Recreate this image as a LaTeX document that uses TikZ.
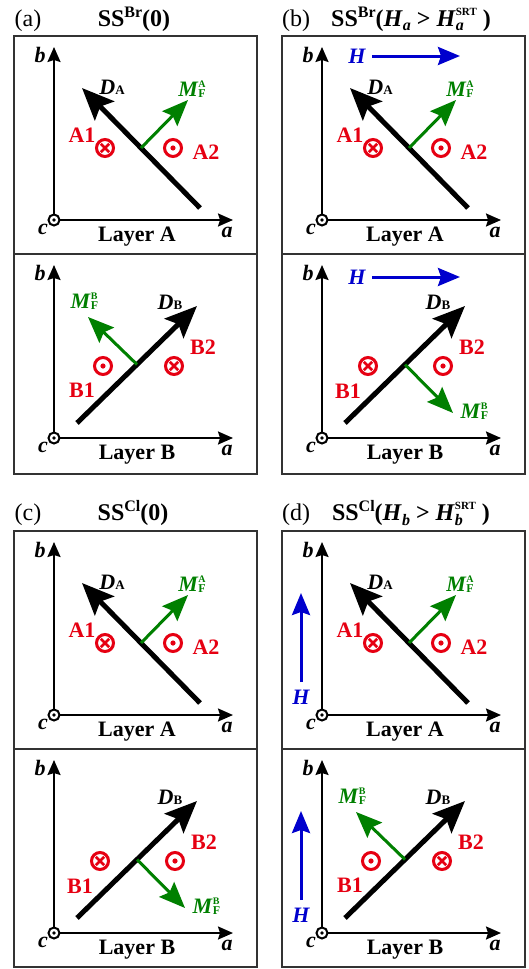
\documentclass[tikz,border=0pt]{standalone}
\usepackage{fontspec}
\setmainfont{Liberation Serif}
\usetikzlibrary{arrows.meta}
\definecolor{rd}{RGB}{230,0,18}
\definecolor{gn}{RGB}{0,128,0}
\definecolor{bl}{RGB}{0,0,205}
\tikzset{
 panelbox/.style={draw=black!80, line width=1.5pt},
 axis/.style={line width=2pt, -{Stealth[length=15pt,width=13pt,inset=2pt]}},
 darrow/.style={line width=5pt, -{Stealth[length=32pt,width=27pt,inset=6pt]}},
 marrow/.style={gn, line width=3pt, -{Stealth[length=26pt,width=21pt,inset=4pt]}},
 harrow/.style={bl, line width=3pt, -{Stealth[length=22pt,width=18pt,inset=3pt]}},
 lbl/.style={font=\fontsize{22}{22}\selectfont\bfseries, inner sep=0pt},
 axlbl/.style={lbl, font=\fontsize{22}{22}\selectfont\bfseries\itshape},
 redlbl/.style={lbl, text=rd},
 grnlbl/.style={lbl, text=gn},
 hlbl/.style={axlbl, text=bl},
 orig/.style={circle, draw, fill=white, line width=2pt, minimum size=11pt, inner sep=0pt, outer sep=0pt},
 redcirc/.style={circle, draw=rd, line width=3pt, minimum size=17pt, inner sep=0pt, outer sep=0pt},
 crossline/.style={rd, line width=2.5pt, shorten <=2.6pt, shorten >=2.6pt},
 ttl/.style={anchor=base, inner sep=0pt, font=\fontsize{24}{24}\selectfont},
}
\newcommand\mfl[1]{\textit{M}\makebox[0pt][l]{\raisebox{-1pt}{\fontsize{12}{12}\selectfont F}}\raisebox{9.5pt}{\fontsize{10}{10}\selectfont #1}}
\newcommand\dl[1]{\textit{D}{\fontsize{13}{13}\selectfont #1}}
\newcommand\otimesym[2]{%
  \node[redcirc] (#1) at (#2) {};
  \draw[crossline] (#1.north east) -- (#1.south west);
  \draw[crossline] (#1.north west) -- (#1.south east);}
\newcommand\odotsym[2]{%
  \node[redcirc] (#1) at (#2) {};
  \fill[rd] (#1) circle (2.6pt);}
\newcommand\axes[2]{% prefix, layer name
  \node[orig] (#1o) at (40,184) {};
  \fill (#1o) circle (1.8pt);
  \coordinate (#1bt) at (40,11);
  \coordinate (#1at) at (219,184);
  \draw[axis] (#1o.north) -- (#1bt);
  \draw[axis] (#1o.east) -- (#1at);
  \node[axlbl] (#1b) at (26,19) {b};
  \node[axlbl] (#1c) at (29,193) {c};
  \node[axlbl] (#1a) at (213,196) {a};
  \node[lbl] (#1ly) at (123,201) {Layer #2};}
\newcommand\layerA[2]{%
 \begin{scope}[shift={(#2)}]
  \axes{#1}{A}
  \coordinate (#1ds) at (186,172);
  \coordinate (#1dt) at (68,52);
  \draw[darrow] (#1ds) -- (#1dt);
  \path (#1ds) -- (#1dt) coordinate[pos=0.5] (#1ms);
  \coordinate (#1mt) at (174,64);
  \draw[marrow] (#1ms) -- (#1mt);
  \node[lbl] (#1dl) at (98,51) {\dl{A}};
  \node[grnlbl] (#1ml) at (178,53) {\mfl{A}};
  \node[redlbl] (#1l1) at (68,99) {A1};
  \otimesym{#1s1}{91,112}
  \odotsym{#1s2}{159,112}
  \node[redlbl] (#1l2) at (192,116) {A2};
 \end{scope}}
\newcommand\layerBi[2]{%
 \begin{scope}[shift={(#2)}]
  \axes{#1}{B}
  \coordinate (#1ds) at (63,169);
  \coordinate (#1dt) at (183,52);
  \draw[darrow] (#1ds) -- (#1dt);
  \path (#1ds) -- (#1dt) coordinate[pos=0.5] (#1ms);
  \coordinate (#1mt) at (74,63);
  \draw[marrow] (#1ms) -- (#1mt);
  \node[lbl] (#1dl) at (156,48) {\dl{B}};
  \node[grnlbl] (#1ml) at (70,47) {\mfl{B}};
  \odotsym{#1s1}{89,112}
  \otimesym{#1s2}{160,112}
  \node[redlbl] (#1l1) at (68,136) {B1};
  \node[redlbl] (#1l2) at (189,93) {B2};
 \end{scope}}
\newcommand\layerBii[2]{%
 \begin{scope}[shift={(#2)}]
  \axes{#1}{B}
  \coordinate (#1ds) at (63,169);
  \coordinate (#1dt) at (183,52);
  \draw[darrow] (#1ds) -- (#1dt);
  \path (#1ds) -- (#1dt) coordinate[pos=0.5] (#1ms);
  \coordinate (#1mt) at (171,159);
  \draw[marrow] (#1ms) -- (#1mt);
  \node[lbl] (#1dl) at (156,48) {\dl{B}};
  \node[grnlbl] (#1ml) at (192,157) {\mfl{B}};
  \otimesym{#1s1}{86,112}
  \odotsym{#1s2}{161,112}
  \node[redlbl] (#1l1) at (66,137) {B1};
  \node[redlbl] (#1l2) at (190,93) {B2};
 \end{scope}}
\newcommand\hhor[3]{% prefix, shift, y
 \begin{scope}[shift={(#2)}]
  \node[hlbl] (#1h) at (75,#3) {H};
  \coordinate (#1hs) at (90,#3);
  \coordinate (#1ht) at (178,#3);
  \draw[harrow] (#1hs) -- (#1ht);
 \end{scope}}
\newcommand\hver[2]{% prefix, shift
 \begin{scope}[shift={(#2)}]
  \node[hlbl] (#1h) at (19,166) {H};
  \coordinate (#1hs) at (19,151);
  \coordinate (#1ht) at (19,62);
  \draw[harrow] (#1hs) -- (#1ht);
 \end{scope}}
\newcommand\hcond[1]{\textit{H}\raisebox{-5pt}{\fontsize{16}{16}\selectfont\itshape #1} > \textit{H}\makebox[0pt][l]{\raisebox{-5pt}{\fontsize{16}{16}\selectfont\itshape #1}}\raisebox{11pt}{\fontsize{11}{11}\selectfont SRT}\ )}
\begin{document}
\begin{tikzpicture}[x=1pt,y=-1pt]
\useasboundingbox (0,0) rectangle (529,969);
\fill[white] (0,0) rectangle (529,969);
% panel boxes
\draw[panelbox] (14,36) rectangle (257,474);
\draw[panelbox] (14,254) -- (257,254);
\draw[panelbox] (282,36) rectangle (525,474);
\draw[panelbox] (282,254) -- (525,254);
\draw[panelbox] (14,531) rectangle (257,967);
\draw[panelbox] (14,749) -- (257,749);
\draw[panelbox] (282,531) rectangle (525,967);
\draw[panelbox] (282,749) -- (525,749);
% titles
\node[ttl] (la) at (28,26) {(a)};
\node[ttl] (ta) at (134,26) {\bfseries SS\raisebox{9pt}{\fontsize{16}{16}\selectfont Br}(0)};
\node[ttl] (lb) at (296,26) {(b)};
\node[ttl] (tb) at (411,26) {\bfseries SS\raisebox{9pt}{\fontsize{16}{16}\selectfont Br}(\hcond{a}};
\node[ttl] (lc) at (28,520) {(c)};
\node[ttl] (tc) at (133,520) {\bfseries SS\raisebox{9pt}{\fontsize{16}{16}\selectfont Cl}(0)};
\node[ttl] (ld) at (296,520) {(d)};
\node[ttl] (td) at (411,520) {\bfseries SS\raisebox{9pt}{\fontsize{16}{16}\selectfont Cl}(\hcond{b}};
% layers
\layerA{aA}{14,36}
\layerBi{aB}{14,254}
\layerA{bA}{282,36}
\layerBii{bB}{282,254}
\hhor{bAH}{282,36}{20}
\hhor{bBH}{282,254}{23}
\layerA{cA}{14,531}
\layerBii{cB}{14,749}
\layerA{dA}{282,531}
\layerBi{dB}{282,749}
\hver{dAH}{282,531}
\hver{dBH}{282,749}
\end{tikzpicture}
\end{document}
